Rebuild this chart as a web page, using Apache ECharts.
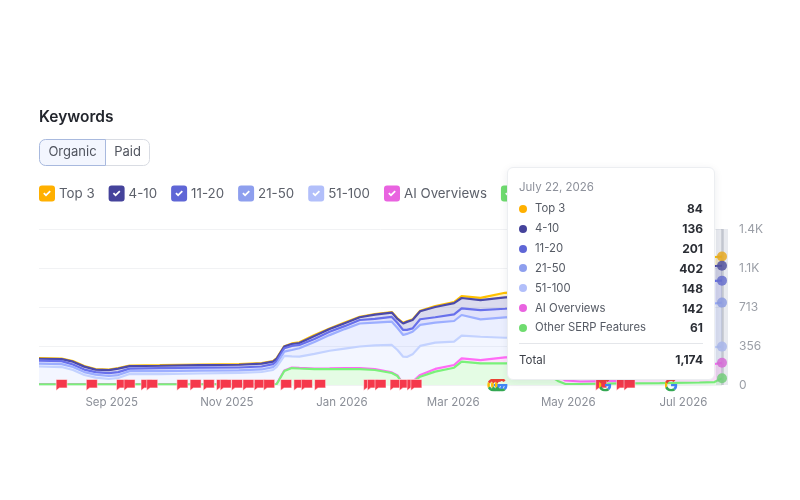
<!DOCTYPE html>
<html>
<head>
<meta charset="utf-8">
<style>html,body{margin:0;padding:0;background:#fff}#c{width:800px;height:500px}</style>
<script src="https://cdn.jsdelivr.net/npm/echarts@6/dist/echarts.min.js"></script>
</head>
<body>
<div id="c"></div>
<script>
const dates = ['2025-07-25','2025-08-06','2025-08-12','2025-08-18','2025-08-24','2025-08-31','2025-09-05','2025-09-11','2025-09-27','2025-10-18','2025-11-08','2025-11-20','2025-11-26','2025-11-28','2025-12-02','2025-12-06','2025-12-10','2025-12-18','2025-12-26','2026-01-03','2026-01-11','2026-01-19','2026-01-28','2026-01-31','2026-02-03','2026-02-05','2026-02-08','2026-02-12','2026-02-20','2026-03-02','2026-03-06','2026-03-16','2026-03-29','2026-04-11','2026-04-22','2026-04-26','2026-04-30','2026-05-08','2026-05-29','2026-06-19','2026-07-10','2026-07-18','2026-07-22'];
const otherSerp = [7,7,7,7,7,7,7,7,7,7,7,7,7,9,128,155,151,146,146,146,146,137,110,82,9,3,21,76,122,158,213,198,198,201,82,37,9,9,14,18,23,27,61];
const aiOverviews = [2,2,2,2,2,2,2,2,2,2,2,2,2,2,5,5,5,5,6,9,9,9,5,5,2,3,9,16,25,25,31,30,55,59,73,50,32,23,23,73,151,165,142];
const pos51to100 = [160,155,128,82,59,46,55,91,91,96,101,110,128,154,133,101,103,133,161,178,197,217,251,233,248,251,250,265,240,213,207,213,179,178,238,279,297,306,283,229,169,155,148];
const pos21to50 = [27,27,27,27,27,27,27,27,27,27,23,23,27,27,39,59,77,110,143,178,210,207,213,201,198,210,207,192,183,189,189,159,186,192,219,229,256,265,347,384,398,398,402];
const pos11to20 = [27,27,23,23,23,27,27,23,27,27,27,27,27,27,31,37,30,27,30,27,32,34,43,46,46,37,31,52,49,61,61,85,79,82,82,91,91,91,155,183,201,206,201];
const pos4to10 = [17,18,26,27,23,27,32,23,22,23,25,27,23,22,15,18,18,27,25,27,25,39,40,37,59,73,76,73,94,103,94,91,104,101,110,110,110,119,137,146,137,137,136];
const top3 = [5,5,6,5,5,5,5,5,5,5,5,5,5,5,4,5,6,9,6,6,5,6,5,6,7,5,6,5,9,9,18,21,42,46,46,55,55,64,73,82,82,82,84];
const seriesNames = ['Top 3','4-10','11-20','21-50','51-100','AI Overviews','Other SERP Features'];
const seriesColors = ['#FFB000','#45439B','#5F66D6','#8E9FEE','#B2BFFA','#E963E0','#6FDC6F'];
const flagDates = ['2025-08-06','2025-08-22','2025-09-07','2025-09-11','2025-09-20','2025-09-23','2025-10-09','2025-10-16','2025-10-23','2025-10-30','2025-11-01','2025-11-07','2025-11-13','2025-11-19','2025-11-24','2025-12-03','2025-12-10','2025-12-14','2025-12-21','2026-01-16','2026-01-18','2026-01-22','2026-01-30','2026-02-04','2026-02-08','2026-02-10','2026-05-19','2026-05-30','2026-06-03'];
const googleDates = ['2026-03-23','2026-03-25','2026-03-27','2026-05-21','2026-06-25'];
const xTickDates = ['2025-09-01','2025-11-01','2026-01-01','2026-03-01','2026-05-01','2026-07-01'];
const monthNames = ['Jan','Feb','Mar','Apr','May','Jun','Jul','Aug','Sep','Oct','Nov','Dec'];
const fullMonths = ['January','February','March','April','May','June','July','August','September','October','November','December'];

const FONT = 'Inter, "Noto Sans", sans-serif';
const ts = s => { const p = s.split('-'); return Date.UTC(+p[0], +p[1]-1, +p[2]); };
const checkIcon = 'path://M3 0H13A3 3 0 0 1 16 3V13A3 3 0 0 1 13 16H3A3 3 0 0 1 0 13V3A3 3 0 0 1 3 0ZM4.2 8.2L7 11L11.8 6.2L10.6 5L7 8.6L5.4 7Z';
const flagIcon = 'path://M0 0H10V8H3L0 10.5Z';
const gSvg = '<svg xmlns="http://www.w3.org/2000/svg" viewBox="0 0 48 48"><path fill="#EA4335" d="M24 9.5c3.54 0 6.71 1.22 9.21 3.6l6.85-6.85C35.9 2.38 30.47 0 24 0 14.62 0 6.51 5.38 2.56 13.22l7.98 6.19C12.43 13.72 17.74 9.5 24 9.5z"/><path fill="#4285F4" d="M46.98 24.55c0-1.57-.15-3.09-.38-4.55H24v9.02h12.94c-.58 2.96-2.26 5.48-4.78 7.18l7.73 6c4.51-4.18 7.09-10.36 7.09-17.65z"/><path fill="#FBBC05" d="M10.53 28.59c-.48-1.45-.76-2.99-.76-4.59s.27-3.14.76-4.59l-7.98-6.19C.92 16.46 0 20.12 0 24c0 3.88.92 7.54 2.56 10.78l7.97-6.19z"/><path fill="#34A853" d="M24 48c6.48 0 11.93-2.13 15.89-5.81l-7.73-6c-2.15 1.45-4.92 2.3-8.16 2.3-6.26 0-11.57-4.22-13.47-9.91l-7.98 6.19C6.51 42.62 14.62 48 24 48z"/></svg>';
const gIcon = 'image://data:image/svg+xml;charset=utf-8,' + encodeURIComponent(gSvg);

const stackOrder = [otherSerp, aiOverviews, pos51to100, pos21to50, pos11to20, pos4to10, top3];
const stackIdx = [6,5,4,3,2,1,0];
const lineSeries = stackOrder.map((vals, k) => {
  const i = stackIdx[k];
  return {
    name: seriesNames[i], type: 'line', stack: 'kw', symbol: 'circle', symbolSize: 10, showSymbol: false,
    data: dates.map((d, j) => [ts(d), vals[j]]),
    lineStyle: { width: 2.2, color: seriesColors[i] },
    itemStyle: { color: seriesColors[i], opacity: 0.85, borderWidth: 0 },
    areaStyle: { color: seriesColors[i], opacity: 0.2 },
    emphasis: { disabled: false, scale: false, focus: 'none' },
    z: 12 - k,
    markLine: k === 0 ? {
      silent: true, symbol: 'none', label: { show: false }, animation: false,
      lineStyle: { color: 'rgba(120,125,140,0.35)', width: 2.5, type: 'solid' },
      data: [{ xAxis: ts(dates[dates.length - 1]) }]
    } : undefined
  };
});

const rows = () => seriesNames.map((n, i) => {
  const vals = [top3,pos4to10,pos11to20,pos21to50,pos51to100,aiOverviews,otherSerp][i];
  return { n, c: seriesColors[i], v: vals[vals.length - 1] };
});
function tipHtml() {
  const d = dates[dates.length - 1].split('-');
  const r = rows();
  const total = r.reduce((a, b) => a + b.v, 0);
  let h = `<div style="font-size:11.5px;line-height:16px;color:#8d919b;margin-bottom:4px">${fullMonths[+d[1]-1]} ${+d[2]}, ${d[0]}</div>`;
  r.forEach(x => {
    h += `<div style="display:flex;align-items:center;height:19.85px;font-size:11.3px;color:#555a64"><span style="width:8px;height:8px;border-radius:50%;background:${x.c};margin-right:8px;margin-left:0"></span><span style="flex:1">${x.n}</span><b style="color:#2a2d34;font-weight:700;font-size:12px">${x.v.toLocaleString('en-US')}</b></div>`;
  });
  h += `<div style="border-top:1px solid #e4e6ea;margin-top:5px;padding-top:8px;display:flex;font-size:11.5px;line-height:16px;color:#3b3f48"><span style="flex:1">Total</span><b style="color:#2a2d34;font-weight:700;font-size:12px">${total.toLocaleString('en-US')}</b></div>`;
  return h;
}

const chart = echarts.init(document.getElementById('c'), null, { renderer: 'canvas' });
chart.setOption({
  animation: false,
  backgroundColor: '#fff',
  textStyle: { fontFamily: FONT },
  title: { text: 'Keywords', left: 39, top: 109, padding: 0, textStyle: { fontFamily: FONT, fontSize: 15.5, fontWeight: 600, color: '#23262d' } },
  legend: {
    left: 39, top: 185.5, padding: 0, orient: 'horizontal', width: 760, itemWidth: 16, itemHeight: 16, itemGap: 14,
    icon: checkIcon, data: seriesNames, selectedMode: false,
    itemStyle: { opacity: 1 },
    textStyle: { fontFamily: FONT, fontSize: 13.3, color: '#5c606a', padding: [0, 0, 0, -1] }
  },
  grid: { left: 39, right: 78, top: 229, bottom: 115, containLabel: false },
  tooltip: {
    trigger: 'axis', alwaysShowContent: true, transitionDuration: 0, confine: false,
    position: [507, 167], padding: [11, 11, 11, 11], backgroundColor: '#fff', borderColor: '#eceef1', borderWidth: 1,
    extraCssText: 'width:208px;height:213px;box-sizing:border-box;border-radius:6px;box-shadow:0 2px 8px rgba(30,40,60,0.08);font-family:Inter,sans-serif;',
    formatter: tipHtml
  },
  xAxis: [
    {
      type: 'time', min: ts(dates[0]), max: ts(dates[dates.length - 1]),
      axisLine: { show: false }, axisTick: { show: false }, splitLine: { show: false }, axisLabel: { show: false },
      axisPointer: { show: true, type: 'line', label: { show: false }, lineStyle: { color: 'rgba(140,150,175,0.2)', width: 12, type: 'solid' } }
    },
    {
      type: 'value', position: 'bottom', min: ts(dates[0]), max: ts(dates[dates.length - 1]),
      axisLine: { show: false }, axisTick: { show: false }, splitLine: { show: false },
      axisPointer: { show: false },
      axisLabel: {
        customValues: xTickDates.map(ts), margin: 12, hideOverlap: false, color: '#8b8f98', fontSize: 11.5, fontFamily: FONT,
        padding: [0, 0, 0, 2],
        formatter: v => { const t = new Date(v); return monthNames[t.getUTCMonth()] + ' ' + t.getUTCFullYear(); }
      }
    }
  ],
  yAxis: {
    type: 'value', position: 'right', min: 0, max: 1426, interval: 356.5,
    axisLine: { show: false }, axisTick: { show: false },
    splitLine: { lineStyle: { color: '#f1f2f4', width: 1 } },
    axisLabel: {
      margin: 17, color: '#9a9ea6', fontSize: 12, fontFamily: FONT,
      formatter: v => v >= 1000 ? (v / 1000).toFixed(1) + 'K' : String(Math.floor(v))
    }
  },
  graphic: [
    { type: 'rect', silent: true, shape: { x: 105.5, y: 139.5, width: 44, height: 26, r: [0, 6, 6, 0] }, style: { fill: '#fff', stroke: '#d9dce3', lineWidth: 1 } },
    { type: 'rect', silent: true, shape: { x: 39.5, y: 139.5, width: 66, height: 26, r: [6, 0, 0, 6] }, style: { fill: '#f3f6fe', stroke: '#a8b9de', lineWidth: 1 } },
    { type: 'text', silent: true, x: 72.5, y: 152.5, style: { text: 'Organic', fill: '#50545e', font: '13px ' + FONT, textAlign: 'center', textVerticalAlign: 'middle' } },
    { type: 'text', silent: true, x: 127.5, y: 152.5, style: { text: 'Paid', fill: '#50545e', font: '13px ' + FONT, textAlign: 'center', textVerticalAlign: 'middle' } }
  ],
  series: lineSeries.concat([
    {
      type: 'scatter', name: 'flags', symbol: flagIcon, symbolSize: [11, 11], clip: false, silent: true, z: 20,
      tooltip: { show: false },
      itemStyle: { color: '#F5384B', borderColor: '#fff', borderWidth: 0.5, opacity: 1 },
      data: flagDates.map(d => [ts(d), 0])
    },
    {
      type: 'scatter', name: 'google', symbol: gIcon, symbolSize: 13, clip: false, silent: true, z: 21,
      tooltip: { show: false }, itemStyle: { opacity: 1 },
      data: googleDates.map(d => [ts(d), 0])
    }
  ])
});
chart.dispatchAction({ type: 'showTip', seriesIndex: 0, dataIndex: dates.length - 1 });
</script>
</body>
</html>
